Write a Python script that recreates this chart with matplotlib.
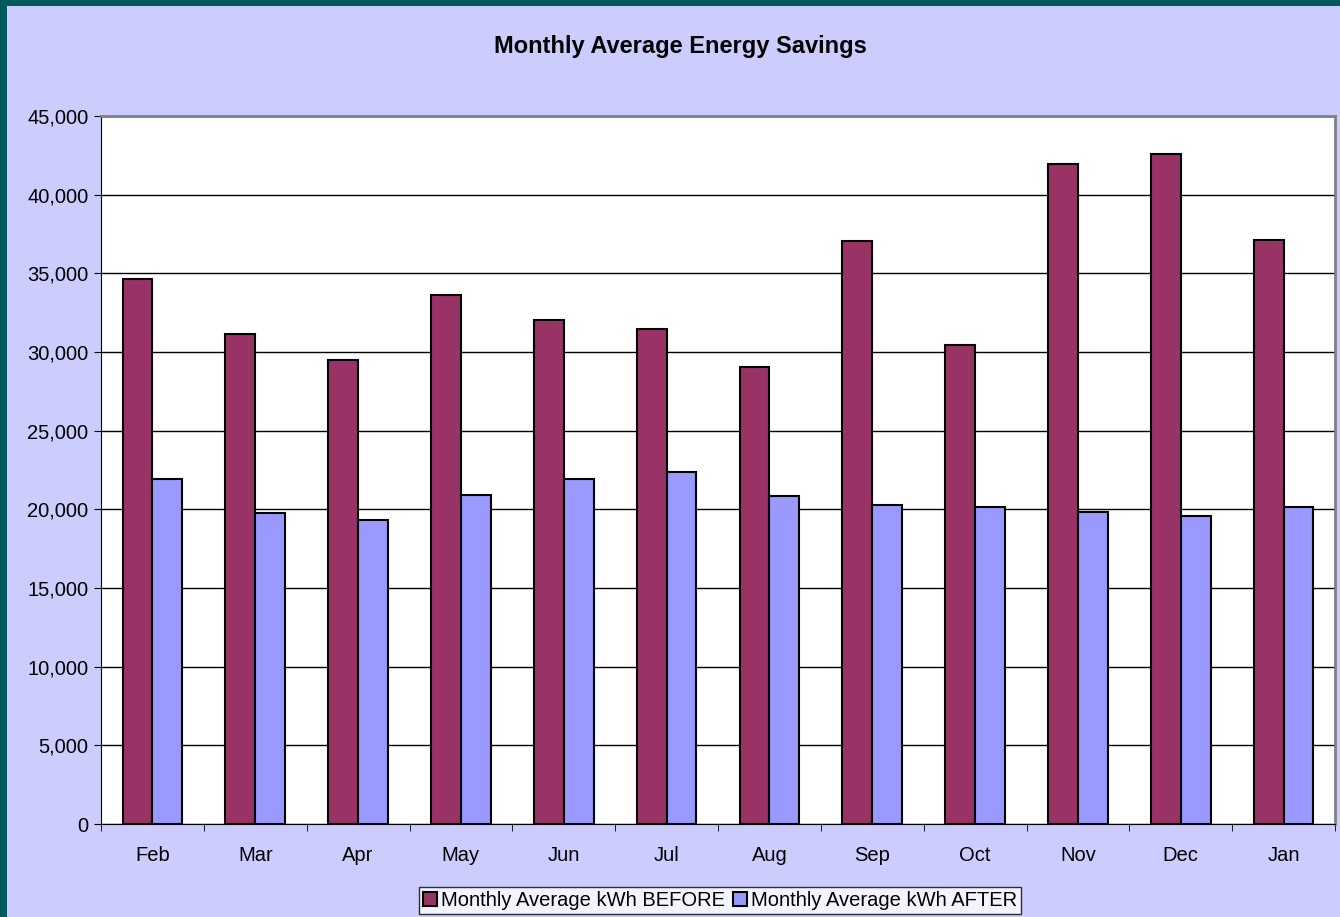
import numpy as np
import matplotlib.pyplot as plt
from matplotlib.patches import Rectangle
from matplotlib.ticker import FuncFormatter, MultipleLocator

plt.rcParams['font.family'] = ['Liberation Sans', 'DejaVu Sans']

months = ['Feb', 'Mar', 'Apr', 'May', 'Jun', 'Jul', 'Aug', 'Sep', 'Oct', 'Nov', 'Dec', 'Jan']
kwh_before = [34620, 31140, 29510, 33600, 32030, 31440, 29030, 37080, 30460, 41950, 42580, 37100]
kwh_after = [21930, 19790, 19300, 20910, 21950, 22390, 20870, 20300, 20150, 19810, 19560, 20150]

fig = plt.figure(figsize=(13.4, 9.17), dpi=100)
fig.patch.set_facecolor('#00595a')
# lavender chart panel
fig.patches.append(Rectangle((7 / 1340, 0), 1, 1 - 6 / 917, transform=fig.transFigure,
                             facecolor='#ccccff', edgecolor='none', zorder=-10))

ax = fig.add_axes([101 / 1340, 93 / 917, 1234 / 1340, 708 / 917])
ax.set_facecolor('white')

x = np.arange(len(months))
w = 0.29
ax.bar(x - w / 2, kwh_before, w, color='#993366', edgecolor='black', linewidth=1.5,
       label='Monthly Average kWh BEFORE', zorder=3)
ax.bar(x + w / 2, kwh_after, w, color='#9999ff', edgecolor='black', linewidth=1.5,
       label='Monthly Average kWh AFTER', zorder=3)

ax.set_xlim(-0.5, len(months) - 0.5)
ax.set_ylim(0, 45000)
ax.yaxis.set_major_locator(MultipleLocator(5000))
ax.yaxis.set_major_formatter(FuncFormatter(lambda v, p: f'{int(v):,}'))
ax.grid(axis='y', color='black', linewidth=1, zorder=1)

ax.set_xticks(x)
ax.set_xticklabels(months)
ax.set_xticks(np.arange(-0.5, len(months)), minor=True)
ax.tick_params(axis='x', which='major', length=0, pad=16, labelsize=14.5)
ax.tick_params(axis='x', which='minor', length=5, direction='out', color='black')
ax.tick_params(axis='y', length=5, direction='out', labelsize=14.5, pad=4)

for s in ['left', 'bottom']:
    ax.spines[s].set_color('black')
for s in ['top', 'right']:
    ax.spines[s].set_color('#808080')
    ax.spines[s].set_linewidth(2)

fig.text(680 / 1340, 1 - 46 / 917, 'Monthly Average Energy Savings', ha='center', va='center',
         fontsize=17, fontweight='bold')

leg = fig.legend(loc='lower center', bbox_to_anchor=(720 / 1340, 3 / 917), ncol=2,
                 fontsize=14.5, frameon=True, fancybox=False, handlelength=0.7, handleheight=0.7,
                 handletextpad=0.2, columnspacing=0.4, borderpad=0.2, borderaxespad=0)
leg.get_frame().set_edgecolor('black')
leg.get_frame().set_facecolor('white')
leg.get_frame().set_linewidth(1)

fig.savefig('out.png', dpi=100, facecolor=fig.get_facecolor())
